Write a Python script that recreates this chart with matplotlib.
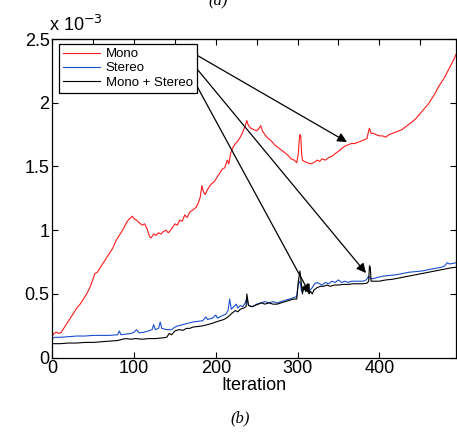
import matplotlib
matplotlib.use("Agg")
import matplotlib.pyplot as plt
from matplotlib.ticker import FuncFormatter, MultipleLocator

plt.rcParams['font.family'] = ['Liberation Sans', 'DejaVu Sans']

# ---- data (values in units of 1e-3) ----
mono_x = [0, 2, 5, 8, 11, 14, 18, 22, 26, 30, 34, 38, 42, 46, 50, 52, 55, 58, 62, 66,
          70, 74, 78, 82, 86, 90, 93, 96, 98, 100, 103, 106, 110, 113, 116, 119, 121, 124,
          127, 130, 133, 136, 139, 142, 146, 150, 153, 156, 159, 162, 165, 168, 172, 176,
          179, 181, 183, 185, 187, 190, 194, 198, 202, 205, 208, 211, 214, 216, 218, 221,
          224, 227, 230, 233, 236, 238, 240, 243, 246, 250, 253, 255, 257, 260, 264, 268,
          272, 276, 280, 284, 288, 292, 296, 299, 301, 302, 303, 304, 305, 306, 308, 312,
          316, 320, 324, 327, 330, 334, 338, 342, 346, 350, 354, 358, 362, 366, 370, 374,
          378, 382, 385, 387, 388, 390, 393, 396, 400, 404, 408, 412, 416, 420, 424, 428,
          432, 436, 440, 444, 448, 452, 456, 460, 464, 468, 472, 476, 480, 484, 488, 492, 494]
mono_y = [0.17, 0.19, 0.20, 0.19, 0.20, 0.23, 0.27, 0.31, 0.35, 0.39, 0.42, 0.46, 0.50, 0.55,
          0.62, 0.66, 0.67, 0.70, 0.74, 0.78, 0.82, 0.86, 0.92, 0.96, 1.00, 1.05, 1.08, 1.10,
          1.11, 1.09, 1.08, 1.06, 1.04, 1.05, 1.01, 0.95, 0.94, 0.97, 0.96, 0.98, 0.97, 0.99,
          1.00, 0.98, 1.01, 1.05, 1.04, 1.08, 1.07, 1.12, 1.10, 1.14, 1.16, 1.18, 1.22, 1.26,
          1.35, 1.30, 1.28, 1.32, 1.36, 1.38, 1.42, 1.45, 1.48, 1.49, 1.55, 1.52, 1.60, 1.65,
          1.68, 1.70, 1.73, 1.77, 1.82, 1.86, 1.82, 1.80, 1.79, 1.78, 1.80, 1.82, 1.78, 1.75,
          1.72, 1.70, 1.67, 1.65, 1.63, 1.61, 1.59, 1.56, 1.55, 1.53, 1.60, 1.70, 1.75, 1.74,
          1.60, 1.55, 1.54, 1.53, 1.52, 1.53, 1.55, 1.54, 1.56, 1.55, 1.57, 1.58, 1.60, 1.62,
          1.64, 1.66, 1.67, 1.68, 1.68, 1.69, 1.70, 1.71, 1.72, 1.78, 1.80, 1.76, 1.76, 1.75,
          1.74, 1.74, 1.73, 1.75, 1.76, 1.77, 1.78, 1.79, 1.81, 1.83, 1.85, 1.87, 1.90, 1.93,
          1.96, 1.99, 2.03, 2.07, 2.12, 2.16, 2.20, 2.25, 2.30, 2.35, 2.38]

stereo_x = [0, 3, 10, 20, 30, 40, 50, 60, 70, 80, 82, 84, 90, 96, 100, 103, 106, 112, 118,
            122, 124, 126, 130, 132, 134, 140, 146, 150, 154, 160, 166, 172, 178, 184, 188,
            190, 196, 200, 202, 208, 212, 215, 217, 219, 222, 225, 227, 230, 233, 236, 238,
            240, 245, 250, 255, 260, 265, 270, 275, 280, 285, 290, 295, 299, 301, 303, 305,
            308, 311, 314, 318, 321, 324, 327, 330, 334, 338, 342, 346, 350, 354, 358, 362,
            366, 370, 375, 380, 384, 387, 389, 392, 398, 405, 412, 420, 428, 436, 444, 452,
            460, 468, 476, 480, 483, 486, 490, 494]
stereo_y = [0.15, 0.16, 0.16, 0.165, 0.17, 0.17, 0.175, 0.175, 0.175, 0.18, 0.21, 0.18, 0.185,
            0.19, 0.20, 0.22, 0.195, 0.20, 0.21, 0.22, 0.26, 0.22, 0.23, 0.28, 0.23, 0.22, 0.22,
            0.24, 0.25, 0.26, 0.27, 0.28, 0.285, 0.29, 0.32, 0.30, 0.31, 0.335, 0.31, 0.33,
            0.34, 0.37, 0.46, 0.38, 0.40, 0.42, 0.39, 0.41, 0.40, 0.43, 0.47, 0.41, 0.40, 0.42,
            0.43, 0.44, 0.43, 0.44, 0.43, 0.44, 0.45, 0.46, 0.47, 0.48, 0.58, 0.60, 0.52, 0.56,
            0.54, 0.52, 0.55, 0.58, 0.59, 0.58, 0.57, 0.59, 0.58, 0.60, 0.59, 0.61, 0.59, 0.60,
            0.59, 0.60, 0.60, 0.60, 0.60, 0.61, 0.64, 0.62, 0.62, 0.63, 0.64, 0.645, 0.65, 0.66,
            0.67, 0.675, 0.68, 0.69, 0.70, 0.71, 0.72, 0.745, 0.735, 0.74, 0.745]

both_x = [0, 10, 20, 30, 40, 50, 60, 70, 80, 86, 90, 96, 102, 110, 118, 126, 134, 140, 143,
          146, 150, 155, 160, 164, 168, 172, 178, 184, 190, 196, 200, 205, 210, 215, 220, 224,
          227, 230, 234, 237, 238, 240, 244, 248, 252, 256, 260, 265, 270, 275, 280, 285, 290,
          295, 299, 301, 303, 304, 306, 308, 310, 312, 314, 316, 318, 320, 324, 328, 332, 336,
          340, 345, 350, 356, 362, 368, 374, 380, 385, 387, 388, 389, 390, 394, 400, 408, 416,
          424, 432, 440, 448, 456, 464, 472, 480, 488, 494]
both_y = [0.11, 0.11, 0.115, 0.115, 0.12, 0.12, 0.125, 0.13, 0.135, 0.145, 0.15, 0.145, 0.15,
          0.145, 0.15, 0.15, 0.155, 0.16, 0.19, 0.18, 0.21, 0.22, 0.215, 0.23, 0.23, 0.24,
          0.245, 0.25, 0.26, 0.27, 0.28, 0.29, 0.30, 0.32, 0.35, 0.37, 0.36, 0.38, 0.39, 0.40,
          0.50, 0.41, 0.40, 0.41, 0.42, 0.43, 0.42, 0.43, 0.42, 0.42, 0.43, 0.44, 0.45, 0.46,
          0.46, 0.60, 0.68, 0.62, 0.50, 0.56, 0.52, 0.58, 0.50, 0.52, 0.50, 0.53, 0.55, 0.56,
          0.56, 0.57, 0.56, 0.57, 0.57, 0.575, 0.575, 0.58, 0.58, 0.58, 0.585, 0.60, 0.72,
          0.71, 0.60, 0.60, 0.60, 0.61, 0.615, 0.625, 0.635, 0.645, 0.655, 0.665, 0.675,
          0.685, 0.695, 0.705, 0.71]

labels = ["Mono", "Stereo", "Mono + Stereo"]
scale = 1e-3

fig = plt.figure(figsize=(4.57, 4.34), dpi=100)
ax = fig.add_axes([52.3 / 457, 1 - 357.7 / 434, (455.7 - 52.3) / 457, (357.7 - 39) / 434])

ax.plot(mono_x, [v * scale for v in mono_y], color='#ff1a1a', lw=0.8, label=labels[0])
ax.plot(stereo_x, [v * scale for v in stereo_y], color='#1a4fd0', lw=0.8, label=labels[1])
ax.plot(both_x, [v * scale for v in both_y], color='black', lw=0.8, label=labels[2])

ax.set_xlim(0, 493.5)
ax.set_ylim(0, 2.5e-3)
ax.xaxis.set_major_locator(MultipleLocator(100))
ax.yaxis.set_major_locator(MultipleLocator(0.5e-3))
ax.yaxis.set_major_formatter(FuncFormatter(lambda v, p: f"{v / scale:g}"))
ax.tick_params(direction='in', length=4, width=0.8, labelsize=13, pad=2,
               left=True, right=True, bottom=True, top=False)
for s in ax.spines.values():
    s.set_linewidth(0.9)

secx = ax.secondary_xaxis('top')
secx.set_xticks(list(range(0, 500, 50)))
secx.tick_params(direction='in', length=4, width=0.8, labeltop=False)

ax.set_xlabel("Iteration", fontsize=13, labelpad=0)

leg = ax.legend(loc='upper left', bbox_to_anchor=(6.5 / 403.4, 1 - 5 / 318.7),
                fontsize=9.5, frameon=True, fancybox=False, edgecolor='black',
                framealpha=1, handlelength=2.8, handletextpad=0.45, borderpad=0.3,
                labelspacing=0.15, borderaxespad=0)
leg.get_frame().set_linewidth(0.9)

arrow = dict(arrowstyle='-|>', color='black', lw=0.9, mutation_scale=14, shrinkA=0, shrinkB=0)
ax.annotate("", xy=(360.5, 1.692e-3), xytext=(176.6, 2.374e-3), arrowprops=arrow)
ax.annotate("", xy=(383.7, 0.664e-3), xytext=(177.4, 2.262e-3), arrowprops=arrow)
ax.annotate("", xy=(315.2, 0.500e-3), xytext=(177.4, 2.125e-3), arrowprops=arrow)

fig.text(49 / 457, 1 - 35 / 434, "x 10$^{-3}$", fontsize=13, ha='left', va='bottom')
fig.text(240 / 457, 1 - 418 / 434, "(b)", fontsize=12, style='italic',
         family='Liberation Serif', ha='center', va='center')
fig.text(218 / 457, 1 - 9 / 434, "(a)", fontsize=12, style='italic',
         family='Liberation Serif', ha='center', va='bottom')

fig.savefig("out.png", dpi=100)
